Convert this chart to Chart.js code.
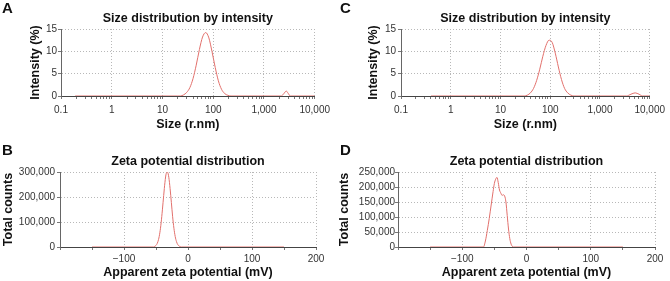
<!DOCTYPE html>
<html>
<head>
<meta charset="utf-8">
<script src="https://cdn.jsdelivr.net/npm/chart.js@4/dist/chart.umd.min.js"></script>
<style>
  html, body { margin: 0; padding: 0; background: #fff; }
  #wrap { position: relative; width: 670px; height: 281px; overflow: hidden; }
  canvas { position: absolute; }
</style>
</head>
<body>
<div id="wrap">
  <canvas id="chartA" width="335" height="140" style="left:0;top:0"></canvas>
  <canvas id="chartC" width="335" height="140" style="left:335px;top:0"></canvas>
  <canvas id="chartB" width="335" height="141" style="left:0;top:140px"></canvas>
  <canvas id="chartD" width="335" height="141" style="left:335px;top:140px"></canvas>
</div>
<script>
// size distribution (A, C)
const sizeA = [0.19, 1, 10, 20, 22.5, 26, 30, 34.7, 40, 46.2, 53.4, 61.6, 71.1, 82.1, 94.8, 109.4, 126.3, 145.8, 168.3, 194.4, 224, 1000, 2200, 2450, 2750, 3000, 3300, 10000];
const intensityA = [0, 0, 0, 0, 0, 0.25, 0.8, 1.9, 3.9, 6.9, 10.4, 13.2, 14.2, 13.0, 9.9, 6.4, 3.4, 1.5, 0.55, 0.15, 0, 0, 0, 0.5, 1.1, 0.6, 0, 0];

const sizeC = [0.4, 1, 10, 30, 34.7, 40, 46.2, 53.4, 61.6, 71.1, 82.1, 94.8, 109.4, 126.3, 145.8, 168.3, 194.4, 224.5, 259.2, 299, 1000, 3400, 4200, 5100, 6100, 7200, 10000];
const intensityC = [0, 0, 0, 0, 0.2, 0.7, 1.7, 3.5, 6.0, 8.9, 11.3, 12.5, 12.0, 9.6, 6.5, 3.7, 1.7, 0.7, 0.2, 0, 0, 0, 0.4, 0.7, 0.4, 0, 0];

// zeta potential (B, D)
const zetaB = [-150, -54, -52, -50, -48, -46, -44, -42, -40, -38, -36, -34, -32, -30, -28, -26, -24, -22, -20, -18, -16, -14, -12, -10, 150];
const countsB = [0, 0, 2500, 6400, 14600, 30300, 56800, 96600, 148600, 206000, 259000, 294000, 299000, 279000, 234000, 178000, 121000, 75000, 42000, 21500, 9800, 4000, 1500, 0, 0];

const zetaD = [-150, -67, -64, -61, -58, -55, -52, -50, -48, -46, -44, -42, -40, -38, -36, -34, -32, -30, -28, -26, -24, -22, -20, 150];
const countsD = [0, 0, 20000, 55000, 95000, 140000, 185000, 212000, 226000, 232000, 215000, 190000, 180000, 172000, 174000, 170000, 150000, 105000, 60000, 28000, 10000, 2000, 0, 0];

// ticks (major ones carry labels and grid lines)
const sizeTicks = [0.1, 1, 10, 100, 1000, 10000];
const sizeLabels = ['0.1', '1', '10', '100', '1,000', '10,000'];
const intensityTicks = [0, 5, 10, 15];
const zetaTicks = [-200, -100, 0, 100, 200];
const zetaLabels = ['', '\u2212100', '0', '100', '200'];
const countTicksB = [0, 100000, 200000, 300000];
const countTicksD = [0, 50000, 100000, 150000, 200000, 250000];

const FONT = '"Liberation Sans", Arial, Helvetica, sans-serif';
const RED = '#e2706c';
const GRID = '#b8b8b8';
const TICKC = '#777';
Chart.defaults.font.family = FONT;

// minor tick positions between majors
function minorLinear(majors) {
  const out = [];
  majors.forEach((v, i) => {
    out.push(v);
    if (i < majors.length - 1) out.push((v + majors[i + 1]) / 2);
  });
  return out;
}
function minorLog(majors) {
  const out = [];
  majors.forEach((v, i) => {
    out.push(v);
    if (i < majors.length - 1) for (let k = 2; k <= 9; k++) out.push(+(v * k).toPrecision(6));
  });
  return out;
}

const panelLabels = {
  id: 'panelLabels',
  afterDraw(chart, args, opts) {
    const { ctx, chartArea } = chart;
    ctx.save();
    ctx.fillStyle = '#111';
    ctx.textBaseline = 'alphabetic';
    ctx.textAlign = 'left';
    ctx.font = 'bold 15px ' + FONT;
    ctx.fillText(opts.letter, opts.letterX, opts.letterY);
    ctx.textAlign = 'center';
    ctx.font = 'bold 12.5px ' + FONT;
    ctx.fillText(opts.title, (chartArea.left + chartArea.right) / 2, opts.titleY);
    ctx.restore();
  }
};

function makeChart(id, c) {
  const canvas = document.getElementById(id);
  const W = canvas.width, H = canvas.height;
  const a = c.area;
  const tickFont = { size: 10, family: FONT };
  const titleFont = { size: 12.5, weight: 'bold', family: FONT };
  const xAll = c.xType === 'logarithmic' ? minorLog(c.xTicks) : minorLinear(c.xTicks);
  const yAll = minorLinear(c.yTicks);
  const gridColor = (majors) => ctx => {
    if (!ctx.tick) return 'rgba(0,0,0,0)';
    const v = ctx.tick.value;
    return (majors.indexOf(v) > 0) ? GRID : 'rgba(0,0,0,0)';
  };
  return new Chart(canvas, {
    type: 'line',
    data: {
      datasets: [{
        data: c.xs.map((x, i) => ({ x: x, y: c.ys[i] })),
        borderColor: RED,
        borderWidth: 1,
        pointRadius: 0,
        cubicInterpolationMode: 'monotone',
        fill: false
      }]
    },
    options: {
      responsive: false,
      animation: false,
      layout: { padding: { left: 0, top: a.top, right: W - a.right, bottom: 0 } },
      plugins: {
        legend: { display: false },
        tooltip: { enabled: false },
        panelLabels: c.labels
      },
      scales: {
        x: {
          type: c.xType,
          min: c.xTicks[0],
          max: c.xTicks[c.xTicks.length - 1],
          afterBuildTicks: s => { s.ticks = xAll.map(v => ({ value: v })); },
          afterFit: s => { s.height = H - a.bottom; },
          ticks: {
            autoSkip: false, maxRotation: 0, padding: c.xTickPad, color: '#333', font: tickFont,
            callback: function (v, i, ticks) {
              const k = c.xTicks.indexOf(ticks[i].value);
              return k >= 0 ? c.xLabels[k] : '';
            }
          },
          grid: {
            drawTicks: true, tickLength: 3, tickColor: TICKC,
            color: gridColor(c.xTicks)
          },
          border: { display: true, color: '#444', width: 1, dash: [1, 2] },
          title: {
            display: true, text: c.xTitle, color: '#111', font: titleFont,
            padding: { top: 0, bottom: c.xTitlePad }
          }
        },
        y: {
          type: 'linear',
          min: c.yTicks[0],
          max: c.yTicks[c.yTicks.length - 1],
          afterBuildTicks: s => { s.ticks = yAll.map(v => ({ value: v })); },
          afterFit: s => { s.width = a.left; },
          ticks: {
            padding: c.yTickPad, color: '#333', font: tickFont,
            callback: function (v, i, ticks) {
              const val = ticks[i].value;
              return c.yTicks.indexOf(val) >= 0 ? val.toLocaleString('en-US') : '';
            }
          },
          grid: {
            drawTicks: true, tickLength: 3, tickColor: TICKC,
            color: gridColor(c.yTicks)
          },
          border: { display: true, color: '#666', width: 1, dash: [1, 2] },
          title: {
            display: true, text: c.yTitle, color: '#111', font: titleFont,
            padding: { top: c.yTitlePad, bottom: 0 }
          }
        }
      }
    },
    plugins: [panelLabels]
  });
}

makeChart('chartA', {
  xs: sizeA, ys: intensityA, xType: 'logarithmic',
  xTicks: sizeTicks, xLabels: sizeLabels, yTicks: intensityTicks,
  area: { left: 61, top: 29, right: 316, bottom: 96 },
  xTitle: 'Size (r.nm)', yTitle: 'Intensity (%)',
  xTickPad: 5, yTickPad: 1, xTitlePad: 8, yTitlePad: 28,
  labels: { letter: 'A', letterX: 2, letterY: 13, title: 'Size distribution by intensity', titleY: 21.5 }
});

makeChart('chartC', {
  xs: sizeC, ys: intensityC, xType: 'logarithmic',
  xTicks: sizeTicks, xLabels: sizeLabels, yTicks: intensityTicks,
  area: { left: 66, top: 29, right: 321, bottom: 96 },
  xTitle: 'Size (r.nm)', yTitle: 'Intensity (%)',
  xTickPad: 5, yTickPad: 2, xTitlePad: 8, yTitlePad: 31.5,
  labels: { letter: 'C', letterX: 5, letterY: 13, title: 'Size distribution by intensity', titleY: 21.5 }
});

makeChart('chartB', {
  xs: zetaB, ys: countsB, xType: 'linear',
  xTicks: zetaTicks, xLabels: zetaLabels, yTicks: countTicksB,
  area: { left: 60, top: 32, right: 316, bottom: 107 },
  xTitle: 'Apparent zeta potential (mV)', yTitle: 'Total counts',
  xTickPad: 3, yTickPad: 2, xTitlePad: 0.5, yTitlePad: 1.5,
  labels: { letter: 'B', letterX: 2, letterY: 15, title: 'Zeta potential distribution', titleY: 25 }
});

makeChart('chartD', {
  xs: zetaD, ys: countsD, xType: 'linear',
  xTicks: zetaTicks, xLabels: zetaLabels, yTicks: countTicksD,
  area: { left: 63, top: 32, right: 320, bottom: 107 },
  xTitle: 'Apparent zeta potential (mV)', yTitle: 'Total counts',
  xTickPad: 3, yTickPad: 0, xTitlePad: 0.5, yTitlePad: 2,
  labels: { letter: 'D', letterX: 5, letterY: 15, title: 'Zeta potential distribution', titleY: 25 }
});
</script>
</body>
</html>
